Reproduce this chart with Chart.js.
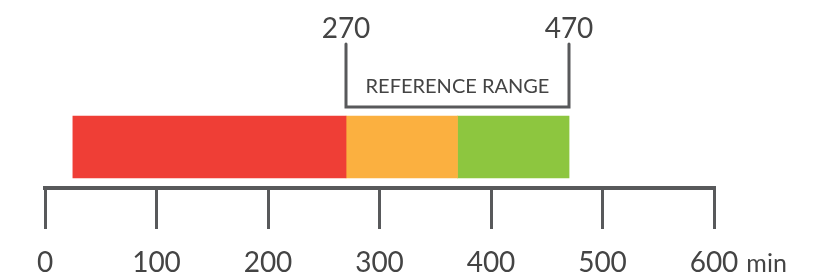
<!DOCTYPE html>
<html>
<head>
<meta charset="utf-8">
<script src="https://cdn.jsdelivr.net/npm/chart.js@4.4.1/dist/chart.umd.min.js"></script>
<style>
    html, body { margin: 0; padding: 0; background: #fff; }
    #wrap { width: 818px; height: 277px; }
</style>
</head>
<body>
<div id="wrap"><canvas id="chart"></canvas></div>
<script>
// data
const categories = ['Duration'];
const segmentNames = ['Low', 'Borderline', 'Normal'];
const segmentRanges = [[25, 270], [270, 370], [370, 470]];
const segmentColors = ['#ef3e36', '#fbb040', '#8dc63f'];
const referenceRange = [270, 470];
const referenceLabel = 'REFERENCE RANGE';
const axisMin = 0;
const axisMax = 600;
const axisStep = 100;
const unitLabel = 'min';

const ink = '#58595b';
const textInk = '#444444';
const fontFamily = 'Lato, "Open Sans", sans-serif';

// draws the reference range bracket and the unit after the last tick
const annotations = {
    id: 'annotations',
    afterDraw(chart) {
        const ctx = chart.ctx;
        const x = chart.scales.x;
        const x0 = Math.round(x.getPixelForValue(referenceRange[0]));
        const x1 = Math.round(x.getPixelForValue(referenceRange[1]));
        const top = 44;
        const bottom = 107;

        ctx.save();
        ctx.strokeStyle = ink;
        ctx.lineWidth = 3;
        ctx.lineCap = 'round';
        ctx.lineJoin = 'miter';
        ctx.beginPath();
        ctx.moveTo(x0, top);
        ctx.lineTo(x0, bottom);
        ctx.lineTo(x1, bottom);
        ctx.lineTo(x1, top);
        ctx.stroke();

        ctx.fillStyle = textInk;
        ctx.textAlign = 'center';
        ctx.textBaseline = 'middle';
        ctx.font = '28px ' + fontFamily;
        ctx.fillText(String(referenceRange[0]), x0, 29);
        ctx.fillText(String(referenceRange[1]), x1, 29);

        ctx.font = '20px ' + fontFamily;
        ctx.fillText(referenceLabel, (x0 + x1) / 2, 87);

        // unit label, on the same baseline as the tick labels
        const last = x.getPixelForValue(axisMax);
        ctx.font = '28px ' + fontFamily;
        const w = ctx.measureText(String(axisMax)).width;
        ctx.textAlign = 'left';
        ctx.textBaseline = 'alphabetic';
        ctx.font = '25px ' + fontFamily;
        ctx.fillText(unitLabel, last + w / 2 + 8, 272);
        ctx.restore();
    }
};

const datasets = segmentRanges.map((r, i) => ({
    label: segmentNames[i],
    data: [r],
    backgroundColor: segmentColors[i],
    borderWidth: 0,
    barThickness: 62,
}));

new Chart(document.getElementById('chart'), {
    type: 'bar',
    data: {
        labels: categories,
        datasets: datasets,
    },
    options: {
        indexAxis: 'y',
        responsive: true,
        maintainAspectRatio: false,
        animation: false,
        layout: {
            padding: { top: 106, left: 45, right: 104, bottom: 0 }
        },
        plugins: {
            legend: { display: false },
            tooltip: { enabled: false },
        },
        scales: {
            y: {
                display: false,
                stacked: true,
            },
            x: {
                min: axisMin,
                max: axisMax,
                position: 'bottom',
                afterFit(scale) { scale.height = 89; },
                border: { display: true, color: ink, width: 4 },
                grid: {
                    drawOnChartArea: false,
                    drawTicks: true,
                    tickLength: 41,
                    color: ink,
                    lineWidth: 3,
                },
                ticks: {
                    stepSize: axisStep,
                    padding: 17,
                    color: textInk,
                    font: { family: fontFamily, size: 28 },
                    maxRotation: 0,
                }
            }
        }
    },
    plugins: [annotations]
});
</script>
</body>
</html>
